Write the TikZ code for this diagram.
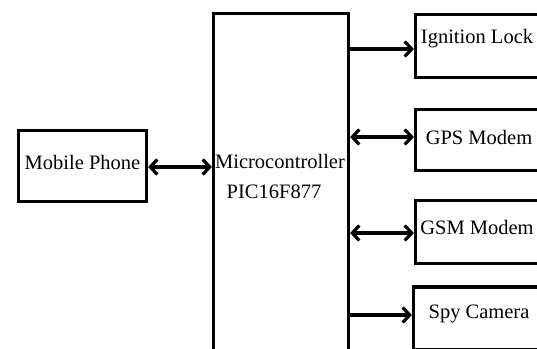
\documentclass[tikz,border=0pt]{standalone}
\usepackage{fontspec}
\setmainfont{Liberation Serif}
\usetikzlibrary{arrows.meta}
\begin{document}
\begin{tikzpicture}[x=1pt,y=-1pt,
  blk/.style={draw=black,line width=3.2pt,minimum width=#1,inner sep=0pt},
  txt/.style={font=\fontsize{20.5}{24}\selectfont,inner sep=0pt,anchor=center},
  conn/.style={line width=3.2pt,-{Straight Barb[length=7pt,width=15pt]}},
  bconn/.style={line width=3.2pt,{Straight Barb[length=7pt,width=15pt]}-{Straight Barb[length=7pt,width=15pt]}}]
\useasboundingbox (0,0) rectangle (537,348);
\clip (0,0) rectangle (537,348);
\node[blk=128pt,minimum height=71pt] (mob) at (82.5,166) {};
\node[blk=135pt,minimum height=400pt] (mcu) at (281,213.5) {};
\node[blk=125pt,minimum height=63pt] (ign) at (478,46) {};
\node[blk=125pt,minimum height=61pt] (gps) at (478,140) {};
\node[blk=125pt,minimum height=63pt] (gsm) at (478,232) {};
\node[blk=127pt,minimum height=63pt] (spy) at (477,318.5) {};
\node[txt] (tmob) at (82.5,162) {Mobile Phone};
\node[txt] (tmcu1) at (280,161) {Microcontroller};
\node[txt] (tmcu2) at (274,192) {PIC16F877};
\node[txt] (tign) at (477,39) {Ignition Lock};
\node[txt] (tgps) at (479,137) {GPS Modem};
\node[txt] (tgsm) at (477,227) {GSM Modem};
\node[txt] (tspy) at (479,314) {Spy Camera};
\draw[bconn] ([yshift=-1pt]mob.east) -- ([yshift=-1pt]mob.east -| mcu.west);
\draw[conn] ([yshift=-3pt]ign.west -| mcu.east) -- ([yshift=-3pt]ign.west);
\draw[bconn] ([yshift=3pt]gps.west -| mcu.east) -- ([yshift=3pt]gps.west);
\draw[bconn] ([yshift=-1pt]gsm.west -| mcu.east) -- ([yshift=-1pt]gsm.west);
\draw[conn] ([yshift=3.5pt]spy.west -| mcu.east) -- ([yshift=3.5pt]spy.west);
\end{tikzpicture}
\end{document}
